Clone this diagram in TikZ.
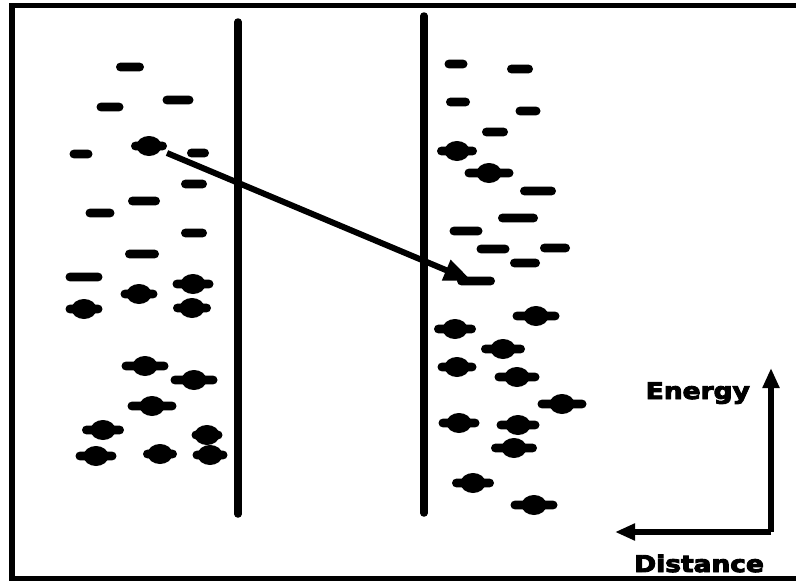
\documentclass[tikz,border=0pt]{standalone}
\usepackage{fontspec}
\setmainfont{DejaVu Sans}
\newfontfamily\labfont{DejaVu Sans Bold}[FakeBold=4]
\usetikzlibrary{shapes.geometric,arrows.meta}
\tikzset{
  lvl/.style={rectangle, rounded corners=4.4pt, fill=black, minimum width=#1, minimum height=8.8pt, inner sep=0pt},
  blob/.style={ellipse, fill=black, minimum width=25pt, minimum height=20pt, inner sep=0pt},
  wall/.style={line width=7.5pt, line cap=round},
  frameline/.style={line width=5.5pt},
  jump/.style={line width=6pt, -{Triangle[length=28pt,width=21pt]}},
  axis/.style={line width=5.5pt, -{Triangle[length=20pt,width=16pt]}},
  lab/.style={inner sep=0pt, font=\fontsize{23}{25}\labfont}
}
\newcommand\emp[4]{\node[lvl=#4pt] (#1) at (#2,#3) {};}
\newcommand\occ[4]{\node[lvl=#4pt] (#1) at (#2,#3) {}; \node[blob] (#1b) at (#1) {};}
\begin{document}
\begin{tikzpicture}[x=1pt,y=-1pt]
\useasboundingbox (0,0) rectangle (796,581);
\fill[white] (0,0) rectangle (796,581);
% walls
\coordinate (w1t) at (238,22); \coordinate (w1b) at (238,514);
\coordinate (w2t) at (424,16); \coordinate (w2b) at (424,513);
\draw[wall] (w1t) -- (w1b);
\draw[wall] (w2t) -- (w2b);
% left empty levels
\emp{a1}{130}{67}{28}
\emp{a2}{110}{107}{27}
\emp{a3}{178}{100}{31}
\emp{a4}{81}{154}{23}
\emp{a5}{198}{153}{22}
\emp{a6}{194}{184}{26}
\emp{a7}{144}{201}{32}
\emp{a8}{100}{213}{29}
\emp{a9}{194}{233}{26}
\emp{a10}{142}{254}{34}
\emp{a11}{84}{277}{37}
% left filled levels
\occ{b1}{149}{146}{36}
\occ{b2}{193}{284}{41}
\occ{b3}{139}{294}{37}
\occ{b4}{84}{309}{37}
\occ{b5}{192}{308}{38}
\occ{b6}{145}{366}{47}
\occ{b7}{194}{380}{47}
\occ{b8}{152}{406}{49}
\occ{b9}{103}{430}{42}
\occ{b10}{207}{435}{31}
\occ{b11}{96}{456}{41}
\occ{b12}{160}{454}{34}
\occ{b13}{210}{455}{35}
% right empty levels
\emp{c1}{456}{64}{23}
\emp{c2}{520}{69}{26}
\emp{c3}{458}{102}{24}
\emp{c4}{528}{111}{25}
\emp{c5}{495}{132}{26}
\emp{c6}{538}{191}{36}
\emp{c7}{518}{218}{40}
\emp{c8}{466}{231}{33}
\emp{c9}{493}{249}{33}
\emp{c10}{555}{248}{30}
\emp{c11}{525}{263}{30}
\emp{c12}{476}{281}{38}
% right filled levels
\occ{d1}{457}{151}{40}
\occ{d2}{489}{173}{49}
\occ{d3}{536}{316}{47}
\occ{d4}{455}{329}{42}
\occ{d5}{503}{349}{44}
\occ{d6}{457}{367}{39}
\occ{d7}{517}{377}{45}
\occ{d8}{562}{404}{49}
\occ{d9}{459}{423}{41}
\occ{d10}{518}{425}{43}
\occ{d11}{514}{448}{46}
\occ{d12}{473}{483}{42}
\occ{d13}{534}{505}{47}
% transition arrow
\coordinate (js) at (167,153);
\coordinate (je) at (472,281);
\draw[jump] (js) -- (je);
% axes
\coordinate (corner) at (771,532);
\coordinate (etip) at (771,368);
\coordinate (dtip) at (615,532);
\draw[axis] (corner) -- (etip);
\draw[axis] (corner) -- (dtip);
\node[lab, anchor=base east] (energy) at (750,399) {\scalebox{1.15}[1]{Energy}};
\node[lab, anchor=base west] (distance) at (634,572) {\scalebox{1.15}[1]{Distance}};
% frame
\coordinate (fl) at (12,3); \coordinate (flb) at (12,581);
\draw[frameline] (9,5.5) -- (796,5.5);
\draw[frameline] (fl) -- (flb);
\draw[frameline] (9,578.5) -- (796,578.5);
\end{tikzpicture}
\end{document}
